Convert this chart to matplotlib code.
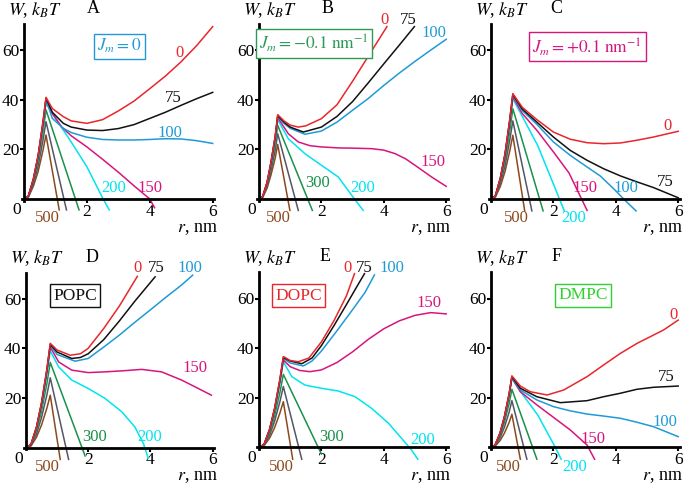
import matplotlib.pyplot as plt

plt.rcParams['font.family'] = ['Liberation Serif', 'DejaVu Serif']
plt.rcParams['mathtext.fontset'] = 'stix'

RED = '#e8262b'
BLACK = '#111111'
BLUE = '#1f9ad6'
MAGENTA = '#d6157e'
CYAN = '#00e4ef'
GREEN = '#1a914a'
GRAY = '#555566'
BROWN = '#8b4a1e'

# ---- panel A, J_m = 0 ----
a_rise = [0, 0.14, 0.3, 0.45, 0.6, 0.7]
a_r_0 = a_rise + [0.9, 1.25, 1.5, 2, 2.5, 3, 3.5, 4, 4.5, 5, 5.5, 6]
a_w_0 = [0, 1.2, 8.2, 17.6, 30.8, 41, 36.5, 33.2, 31.5, 30.5, 32, 35.5, 39.5, 44.5, 49.6, 55.4, 62, 69.5]
a_r_75 = a_rise + [0.9, 1.25, 1.5, 2, 2.5, 3, 3.5, 4, 4.5, 5, 5.5, 6]
a_w_75 = [0, 1.2, 8.1, 17.5, 30.5, 40.7, 35, 30.5, 29, 27.8, 27.6, 28.4, 30, 32.5, 35, 37.8, 40.5, 43]
a_r_100 = a_rise + [0.9, 1.25, 1.5, 2, 2.5, 3, 3.5, 4, 4.5, 5, 5.5, 6]
a_w_100 = [0, 1.2, 8.0, 17.3, 30.2, 40.2, 32.5, 28.5, 26.8, 24.9, 24, 23.8, 23.8, 24, 24.3, 24.2, 23.5, 22.4]
a_r_150 = a_rise + [0.9, 1.2, 1.5, 2, 2.5, 3, 3.5, 4, 4.15]
a_w_150 = [0, 1.2, 7.9, 17.0, 29.6, 39.5, 34.5, 29, 25.5, 21, 16, 10.8, 5.3, 0, -3.5]
a_r_200 = a_rise + [1.0, 1.5, 2.0, 2.5, 2.71]
a_w_200 = [0, 1.2, 7.7, 16.6, 29.0, 38.6, 32.5, 23, 13, 0.4, -4.4]
a_r_300 = a_rise + [1.75]
a_w_300 = [0, 1.1, 7.2, 15.4, 26.9, 35.9, -4.4]
a_r_400 = a_rise + [1.35]
a_w_400 = [0, 0.9, 6.2, 13.4, 23.4, 31.2, -4.4]
a_r_500 = a_rise + [1.12]
a_w_500 = [0, 0.8, 5.2, 11.1, 19.4, 25.8, -4.4]

# ---- panel B, J_m = -0.1 nm^-1 ----
b_rise = [0, 0.12, 0.26, 0.38, 0.52, 0.6]
b_r_0 = b_rise + [0.8, 1.0, 1.26, 1.5, 2.0, 2.5, 3.0, 3.5, 4.1]
b_w_0 = [0, 1.0, 6.8, 14.6, 25.5, 34, 31.5, 29.8, 29, 29.5, 32.4, 38, 47.5, 57.5, 69.5]
b_r_75 = b_rise + [0.8, 1.0, 1.42, 2.0, 2.5, 3.0, 3.5, 4.0, 4.5, 4.98]
b_w_75 = [0, 1.0, 6.7, 14.4, 25.2, 33.6, 31, 29, 27, 29, 33.3, 39.3, 46.8, 54.5, 62.1, 69.5]
b_r_100 = b_rise + [0.8, 1.0, 1.47, 2.0, 2.5, 3.0, 3.5, 4.0, 4.5, 5.0, 5.5, 6.0]
b_w_100 = [0, 1.0, 6.6, 14.3, 24.9, 33.2, 30.5, 28.5, 26.1, 27.4, 31, 35.8, 40.5, 45.8, 50.8, 55.5, 60, 64.4]
b_r_150 = b_rise + [0.94, 1.26, 1.63, 2.0, 2.54, 3.0, 3.61, 4.0, 4.36, 4.7, 5.0, 5.53, 6.0]
b_w_150 = [0, 1.0, 6.6, 14.1, 24.6, 32.8, 26.3, 23, 21.5, 21, 20.6, 20.5, 20.3, 19.7, 18.3, 16.2, 13.6, 8.9, 5.1]
b_r_200 = b_rise + [0.94, 1.47, 2.0, 2.54, 2.97, 3.34]
b_w_200 = [0, 1.0, 6.4, 13.8, 24.0, 32, 24.3, 18.3, 13.6, 8.9, 1.5, -4.6]
b_r_300 = b_rise + [1.71]
b_w_300 = [0, 0.9, 5.9, 12.8, 22.3, 29.7, -4.6]
b_r_400 = b_rise + [1.26]
b_w_400 = [0, 0.8, 5.3, 11.3, 19.7, 26.3, -4.6]
b_r_500 = b_rise + [0.99]
b_w_500 = [0, 0.7, 4.4, 9.5, 16.5, 22, -4.6]

# ---- panel C, J_m = +0.1 nm^-1 ----
c_rise = [0, 0.14, 0.3, 0.45, 0.6, 0.7]
c_r_0 = c_rise + [1.0, 1.47, 2.0, 2.54, 3.08, 3.61, 4.15, 4.68, 5.21, 6.0]
c_w_0 = [0, 1.3, 8.5, 18.3, 31.9, 42.5, 37, 32, 27, 24.1, 22.7, 22.3, 22.6, 23.7, 25, 27.3]
c_r_75 = c_rise + [1.0, 1.47, 2.0, 2.54, 3.08, 3.61, 4.15, 4.68, 5.21, 6.0]
c_w_75 = [0, 1.3, 8.4, 18.1, 31.7, 42.2, 36.3, 31, 25, 19.6, 15.6, 12.2, 9.3, 6.9, 4.6, 0.5]
c_r_100 = c_rise + [1.0, 1.47, 2.0, 2.54, 3.08, 3.5, 4.0, 4.25, 4.65]
c_w_100 = [0, 1.3, 8.4, 18.0, 31.4, 41.8, 35.7, 30.1, 23, 17.6, 12.9, 9.3, 3.3, 0, -4.8]
c_r_150 = c_rise + [1.0, 1.47, 2.0, 2.5, 3.08]
c_w_150 = [0, 1.2, 8.2, 17.7, 30.9, 41.2, 34.5, 27.7, 19, 10.5, -4.6]
c_r_200 = c_rise + [1.5, 2.35]
c_w_200 = [0, 1.2, 8.1, 17.4, 30.4, 40.5, 21.5, -4.8]
c_r_300 = c_rise + [1.67]
c_w_300 = [0, 1.1, 7.3, 15.7, 27.3, 36.4, -4.8]
c_r_400 = c_rise + [1.31]
c_w_400 = [0, 0.9, 6.3, 13.5, 23.6, 31.5, -4.8]
c_r_500 = c_rise + [1.08]
c_w_500 = [0, 0.8, 5.1, 11.1, 19.3, 25.7, -4.8]

# ---- panel D, POPC ----
d_rise = [0, 0.16, 0.34, 0.5, 0.67, 0.78]
d_r_0 = d_rise + [1.0, 1.42, 1.75, 2.0, 2.5, 3.0, 3.58]
d_w_0 = [0, 1.3, 8.4, 18.1, 31.5, 42, 39.3, 37.2, 37.8, 40, 48, 57, 69]
d_r_75 = d_rise + [1.0, 1.47, 1.75, 2.0, 2.5, 3.0, 3.5, 4.15]
d_w_75 = [0, 1.2, 8.3, 17.9, 31.2, 41.6, 38.5, 35.9, 36.3, 37.8, 43.5, 51, 59, 68.8]
d_r_100 = d_rise + [1.0, 1.58, 2.0, 2.5, 3.0, 3.5, 4.0, 4.5, 5.0, 5.36]
d_w_100 = [0, 1.2, 8.2, 17.7, 30.9, 41.2, 37.5, 34.8, 35.9, 40.5, 45.3, 50.5, 55.5, 60.6, 65.5, 69.5]
d_r_150 = d_rise + [1.05, 1.47, 2.0, 2.54, 3.08, 3.72, 4.36, 5.0, 5.43, 5.96]
d_w_150 = [0, 1.2, 8.1, 17.4, 30.4, 40.5, 34.5, 31.2, 30.2, 30.5, 30.9, 31.5, 30.5, 27.2, 24.5, 21.1]
d_r_200 = d_rise + [1.05, 1.47, 2.0, 2.54, 3.08, 3.5, 3.78, 3.93]
d_w_200 = [0, 1.2, 7.8, 16.8, 29.3, 39, 32.5, 27.2, 23.8, 19.8, 14.4, 8.3, 1.5, -4.4]
d_r_300 = d_rise + [1.9]
d_w_300 = [0, 1.0, 6.9, 14.7, 25.7, 34.3, -3.4]
d_r_400 = d_rise + [1.37]
d_w_400 = [0, 0.8, 5.6, 12.1, 21.1, 28.1, -4.8]
d_r_500 = d_rise + [1.1]
d_w_500 = [0, 0.6, 4.2, 9.1, 15.8, 21.1, -4.8]

# ---- panel E, DOPC ----
e_rise = [0, 0.16, 0.34, 0.5, 0.67, 0.78]
e_r_0 = e_rise + [1.0, 1.26, 1.6, 2.0, 2.4, 2.8, 3.06]
e_w_0 = [0, 1.1, 7.3, 15.7, 27.5, 36.6, 35, 34.5, 36, 42.5, 51, 61, 70]
e_r_75 = e_rise + [1.0, 1.37, 1.7, 2.0, 2.4, 2.8, 3.1, 3.38]
e_w_75 = [0, 1.1, 7.2, 15.6, 27.2, 36.2, 34.8, 33.7, 36, 41, 49, 57.5, 64, 70]
e_r_100 = e_rise + [1.0, 1.42, 1.7, 2.0, 2.5, 3.0, 3.4, 3.7]
e_w_100 = [0, 1.1, 7.2, 15.4, 26.9, 35.8, 34, 32.8, 34.8, 38.8, 47, 55.5, 62.5, 69.5]
e_r_150 = e_rise + [1.0, 1.3, 1.63, 2.0, 2.5, 3.0, 3.5, 4.0, 4.5, 5.0, 5.5, 6.0]
e_w_150 = [0, 1.1, 7.0, 15.1, 26.4, 35.2, 32.5, 31, 30.5, 31.2, 34.2, 38.5, 43.5, 47.8, 51, 53.2, 54.3, 53.8]
e_r_200 = e_rise + [1.05, 1.47, 2.0, 2.54, 3.08, 3.61, 4.15, 4.57, 4.89, 5.09]
e_w_200 = [0, 1.0, 6.9, 14.8, 25.9, 34.5, 28.5, 25.1, 23.8, 22.7, 20.4, 15.7, 9.7, 3.6, -1.1, -4.8]
e_r_300 = e_rise + [2.0]
e_w_300 = [0, 0.9, 5.9, 12.6, 22.1, 29.4, -2.7]
e_r_400 = e_rise + [1.37]
e_w_400 = [0, 0.7, 4.9, 10.5, 18.4, 24.5, -4.8]
e_r_500 = e_rise + [1.08]
e_w_500 = [0, 0.6, 3.7, 7.9, 13.8, 18.4, -4.8]

# ---- panel F, DMPC ----
f_rise = [0, 0.13, 0.29, 0.43, 0.58, 0.67]
f_r_0 = f_rise + [0.94, 1.26, 1.8, 2.33, 3.08, 3.61, 4.15, 4.68, 5.53, 6.0]
f_w_0 = [0, 0.9, 5.8, 12.4, 21.6, 28.8, 24.7, 22.4, 21.1, 23.1, 28.5, 33.2, 37.9, 41.9, 47.3, 51.3]
f_r_75 = f_rise + [0.94, 1.47, 2.22, 3.08, 3.61, 4.15, 4.68, 5.21, 6.0]
f_w_75 = [0, 0.9, 5.7, 12.3, 21.4, 28.5, 23.8, 20.4, 18, 18.8, 20.4, 21.8, 23.4, 24.2, 24.7]
f_r_100 = f_rise + [0.94, 1.47, 2.0, 2.54, 3.08, 3.61, 4.15, 4.68, 5.21, 6.0]
f_w_100 = [0, 0.8, 5.6, 12.1, 21.2, 28.2, 23.1, 19.1, 16.4, 14.7, 13.4, 12.6, 11.7, 10.1, 8.3, 4.3]
f_r_150 = f_rise + [0.94, 1.47, 2.0, 2.54, 3.08, 3.32]
f_w_150 = [0, 0.8, 5.6, 12.0, 21.0, 28, 22.4, 17.1, 12.1, 7, 0.9, -4.8]
f_r_200 = f_rise + [1.0, 1.5, 2.06, 2.25]
f_w_200 = [0, 0.8, 5.6, 12.0, 20.9, 27.8, 21.5, 13, 0, -4.8]
f_r_300 = f_rise + [1.47]
f_w_300 = [0, 0.7, 4.7, 10.1, 17.6, 23.4, -4.8]
f_r_400 = f_rise + [1.15]
f_w_400 = [0, 0.6, 3.8, 8.1, 14.1, 18.8, -4.8]
f_r_500 = f_rise + [0.94]
f_w_500 = [0, 0.4, 2.7, 5.7, 10.0, 13.3, -4.8]

# curve labels: text, r, W, colour
a_labels = [('0', 4.96, 58.7, RED), ('75', 4.75, 40.6, BLACK), ('100', 4.64, 26.5, BLUE),
            ('200', 2.84, 4.3, CYAN), ('150', 4.0, 4.3, MAGENTA), ('500', 0.74, -7.8, BROWN)]
b_labels = [('0', 4.02, 72.2, RED), ('75', 4.77, 72.2, BLACK), ('100', 5.62, 66.8, BLUE),
            ('150', 5.57, 15, MAGENTA), ('300', 1.89, 6.3, GREEN), ('200', 3.33, 4.3, CYAN),
            ('500', 0.61, -7.8, BROWN)]
c_labels = [('0', 5.65, 29.6, RED), ('75', 5.57, 7, BLACK), ('100', 4.34, 4.3, BLUE),
            ('150', 3.0, 4.3, MAGENTA), ('200', 2.65, -7.8, CYAN), ('500', 0.8, -7.8, BROWN)]
d_labels = [('0', 3.59, 72.2, RED), ('75', 4.18, 72.2, BLACK), ('100', 5.27, 72.2, BLUE),
            ('150', 5.43, 31.9, MAGENTA), ('300', 2.22, 4.3, GREEN), ('200', 3.97, 4.3, CYAN),
            ('500', 0.7, -7.8, BROWN)]
e_labels = [('0', 2.83, 72.2, RED), ('75', 3.38, 72.2, BLACK), ('100', 4.27, 72.2, BLUE),
            ('150', 5.46, 58, MAGENTA), ('300', 2.32, 4.3, GREEN), ('200', 5.25, 3, CYAN),
            ('500', 0.72, -7.8, BROWN)]
f_labels = [('0', 5.84, 53.2, RED), ('75', 5.63, 28.5, BLACK), ('100', 5.57, 10.3, BLUE),
            ('150', 3.27, 3.2, MAGENTA), ('200', 2.68, -7.8, CYAN), ('500', 0.57, -7.8, BROWN)]

panels = [
    dict(letter='A', x0=24, y0=199, xs=31.45, box=r'$J_m = 0$', box_xy=(3.04, 61.6), box_c=BLUE,
         curves=[(a_r_500, a_w_500), (a_r_400, a_w_400), (a_r_300, a_w_300), (a_r_200, a_w_200),
                 (a_r_150, a_w_150), (a_r_100, a_w_100), (a_r_75, a_w_75), (a_r_0, a_w_0)],
         labels=a_labels, letter_r=2.2),
    dict(letter='B', x0=259, y0=199, xs=31.2, box=r'$J_m = -0.1\ \mathrm{nm}^{-1}$', box_xy=(1.76, 62.8),
         box_c='#2a9a55',
         curves=[(b_r_500, b_w_500), (b_r_400, b_w_400), (b_r_300, b_w_300), (b_r_200, b_w_200),
                 (b_r_150, b_w_150), (b_r_100, b_w_100), (b_r_75, b_w_75), (b_r_0, b_w_0)],
         labels=b_labels, letter_r=2.21),
    dict(letter='C', x0=491, y0=199, xs=31.2, box=r'$J_m = +0.1\ \mathrm{nm}^{-1}$', box_xy=(3.09, 61.4),
         box_c=MAGENTA,
         curves=[(c_r_500, c_w_500), (c_r_400, c_w_400), (c_r_300, c_w_300), (c_r_200, c_w_200),
                 (c_r_150, c_w_150), (c_r_100, c_w_100), (c_r_75, c_w_75), (c_r_0, c_w_0)],
         labels=c_labels, letter_r=2.09),
    dict(letter='D', x0=26, y0=447.5, xs=31.1, box='POPC', box_xy=(1.58, 61.2), box_c=BLACK,
         curves=[(d_r_500, d_w_500), (d_r_400, d_w_400), (d_r_300, d_w_300), (d_r_200, d_w_200),
                 (d_r_150, d_w_150), (d_r_100, d_w_100), (d_r_75, d_w_75), (d_r_0, d_w_0)],
         labels=d_labels, letter_r=2.11),
    dict(letter='E', x0=259, y0=447.3, xs=31.2, box='DOPC', box_xy=(1.27, 61.2), box_c=RED,
         curves=[(e_r_500, e_w_500), (e_r_400, e_w_400), (e_r_300, e_w_300), (e_r_200, e_w_200),
                 (e_r_150, e_w_150), (e_r_100, e_w_100), (e_r_75, e_w_75), (e_r_0, e_w_0)],
         labels=e_labels, letter_r=2.1),
    dict(letter='F', x0=491, y0=447.3, xs=31.2, box='DMPC', box_xy=(2.95, 61.4), box_c='#2fd12f',
         curves=[(f_r_500, f_w_500), (f_r_400, f_w_400), (f_r_300, f_w_300), (f_r_200, f_w_200),
                 (f_r_150, f_w_150), (f_r_100, f_w_100), (f_r_75, f_w_75), (f_r_0, f_w_0)],
         labels=f_labels, letter_r=2.09),
]

line_colors = [BROWN, GRAY, GREEN, CYAN, MAGENTA, BLUE, BLACK, RED]

W_PX, H_PX = 685, 484
YS = 2.48  # pixels per unit of W
XLIM = (-0.6, 6.3)
YLIM = (-13, 80)

fig = plt.figure(figsize=(W_PX / 100, H_PX / 100), dpi=100)

for p in panels:
    xs = p['xs']
    left = (p['x0'] + XLIM[0] * xs) / W_PX
    width = (XLIM[1] - XLIM[0]) * xs / W_PX
    bottom_px = p['y0'] - YLIM[0] * YS
    height = (YLIM[1] - YLIM[0]) * YS / H_PX
    ax = fig.add_axes([left, 1 - bottom_px / H_PX, width, height])
    ax.patch.set_visible(False)
    ax.set_xlim(*XLIM)
    ax.set_ylim(*YLIM)

    for (r, w), col in zip(p['curves'], line_colors):
        ax.plot(r, w, color=col, lw=1.1, solid_joinstyle='round')

    # axes drawn through the origin
    for side in ['top', 'right']:
        ax.spines[side].set_visible(False)
    ax.spines['left'].set_position(('data', 0))
    ax.spines['bottom'].set_position(('data', 0))
    ax.spines['left'].set_bounds(-0.8, 70.5)
    ax.spines['bottom'].set_bounds(-0.05, 6.05)
    ax.spines['left'].set_linewidth(2)
    ax.spines['bottom'].set_linewidth(2)
    ax.set_xticks([2, 4, 6])
    ax.set_yticks([20, 40, 60])
    ax.tick_params(direction='out', length=3, width=1.5, labelsize=12.5, pad=0.5)

    ax.text(-0.22, -4.5, '0', fontsize=12.5, ha='center', va='center')
    ax.text(-0.5, 74.3, r'$W$, $k_{B}T$', fontsize=13, ha='left', va='baseline')
    ax.text(6.15, -11.8, r'$r$, nm', fontsize=13, ha='right', va='center')
    ax.text(p['letter_r'], 75, p['letter'], fontsize=13, ha='center', va='baseline')

    for txt, r, w, col in p['labels']:
        ax.text(r, w, txt, color=col, fontsize=12, ha='center', va='center')

    bx, by = p['box_xy']
    ax.text(bx, by, p['box'], color=p['box_c'], fontsize=12.5, ha='center', va='center',
            bbox=dict(boxstyle='square,pad=0.2', fc='white', ec=p['box_c'], lw=1.0))

fig.savefig('out.png', dpi=100)
